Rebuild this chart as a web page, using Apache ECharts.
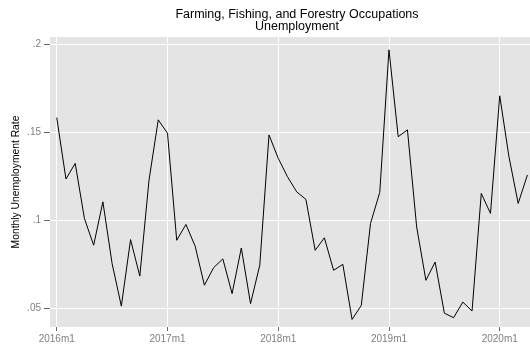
<!DOCTYPE html>
<html>
<head>
<meta charset="utf-8">
<script src="https://cdn.jsdelivr.net/npm/echarts@6/dist/echarts.min.js"></script>
<style>
  html, body { margin: 0; padding: 0; background: #fff; }
  #chart { width: 530px; height: 349px; }
</style>
</head>
<body>
<div id="chart"></div>
<script>
// monthly rate, 2016m1 .. 2020m4
var rates = [
  0.1585, 0.1235, 0.1324, 0.1010, 0.0858, 0.1105, 0.0753, 0.0511, 0.0890, 0.0682, 0.1229, 0.1572,
  0.1496, 0.0886, 0.0976, 0.0852, 0.0630, 0.0730, 0.0780, 0.0582, 0.0842, 0.0525, 0.0744, 0.1486,
  0.1353, 0.1248, 0.1162, 0.1119, 0.0829, 0.0900, 0.0715, 0.0749, 0.0435, 0.0515, 0.0982, 0.1159,
  0.1971, 0.1476, 0.1515, 0.0962, 0.0658, 0.0762, 0.0471, 0.0445, 0.0534, 0.0483, 0.1153, 0.1039,
  0.1709, 0.1362, 0.1096, 0.1258
];
var firstYear = 2016;
var xTickIdx = [0, 12, 24, 36, 48];
var xTickLabels = ["2016m1", "2017m1", "2018m1", "2019m1", "2020m1"];
var yTicks = [0.05, 0.1, 0.15, 0.2];
var yTickLabels = [".05", ".1", ".15", ".2"];

var months = [];
for (var i = 0; i < rates.length; i++) {
  months.push((firstYear + Math.floor(i / 12)) + "m" + (i % 12 + 1));
}
var points = rates.map(function (v, i) { return [i, v]; });

var grey = "#7f7f7f";
var chart = echarts.init(document.getElementById("chart"));
chart.setOption({
  animation: false,
  textStyle: { fontFamily: "Liberation Sans" },
  title: {
    text: "Farming, Fishing, and Forestry Occupations\nUnemployment",
    left: 292, top: 4, textAlign: "center",
    textStyle: { fontSize: 12.5, fontWeight: "normal", color: "#000", lineHeight: 11.5 }
  },
  tooltip: {
    trigger: "axis",
    formatter: function (p) { return months[p[0].data[0]] + ": " + p[0].data[1]; }
  },
  grid: {
    left: 50, right: 0, top: 37, bottom: 22, outerBoundsMode: "none",
    backgroundColor: "#e4e4e4", show: true, borderWidth: 0
  },
  xAxis: {
    type: "value", min: -0.73, max: 51.28,
    axisLine: { show: false, onZero: false },
    axisTick: { show: true, length: 4, lineStyle: { color: "#666", width: 1 }, customValues: xTickIdx },
    axisLabel: {
      customValues: xTickIdx, color: grey, fontSize: 10, margin: 7,
      formatter: function (v) { return xTickLabels[xTickIdx.indexOf(Math.round(v))] || ""; }
    },
    splitLine: { show: true, lineStyle: { color: "#fff", width: 1 } }
  },
  yAxis: {
    type: "value", min: 0.0392, max: 0.2044,
    name: "Monthly Unemployment Rate", nameLocation: "middle", nameGap: 29,
    nameMoveOverlap: false,
    nameTextStyle: { fontSize: 10.3, color: "#000" },
    axisLine: { show: false, onZero: false },
    axisTick: { show: true, length: 6, lineStyle: { color: "#666", width: 1 }, customValues: yTicks },
    axisLabel: {
      customValues: yTicks, color: grey, fontSize: 10, margin: 9,
      formatter: function (v) {
        for (var k = 0; k < yTicks.length; k++) {
          if (Math.abs(v - yTicks[k]) < 1e-6) return yTickLabels[k];
        }
        return "";
      }
    },
    splitLine: { show: true, lineStyle: { color: "#fff", width: 1 } }
  },
  series: [{
    type: "line", data: points, showSymbol: false,
    lineStyle: { color: "#000", width: 1 }
  }]
});
</script>
</body>
</html>
